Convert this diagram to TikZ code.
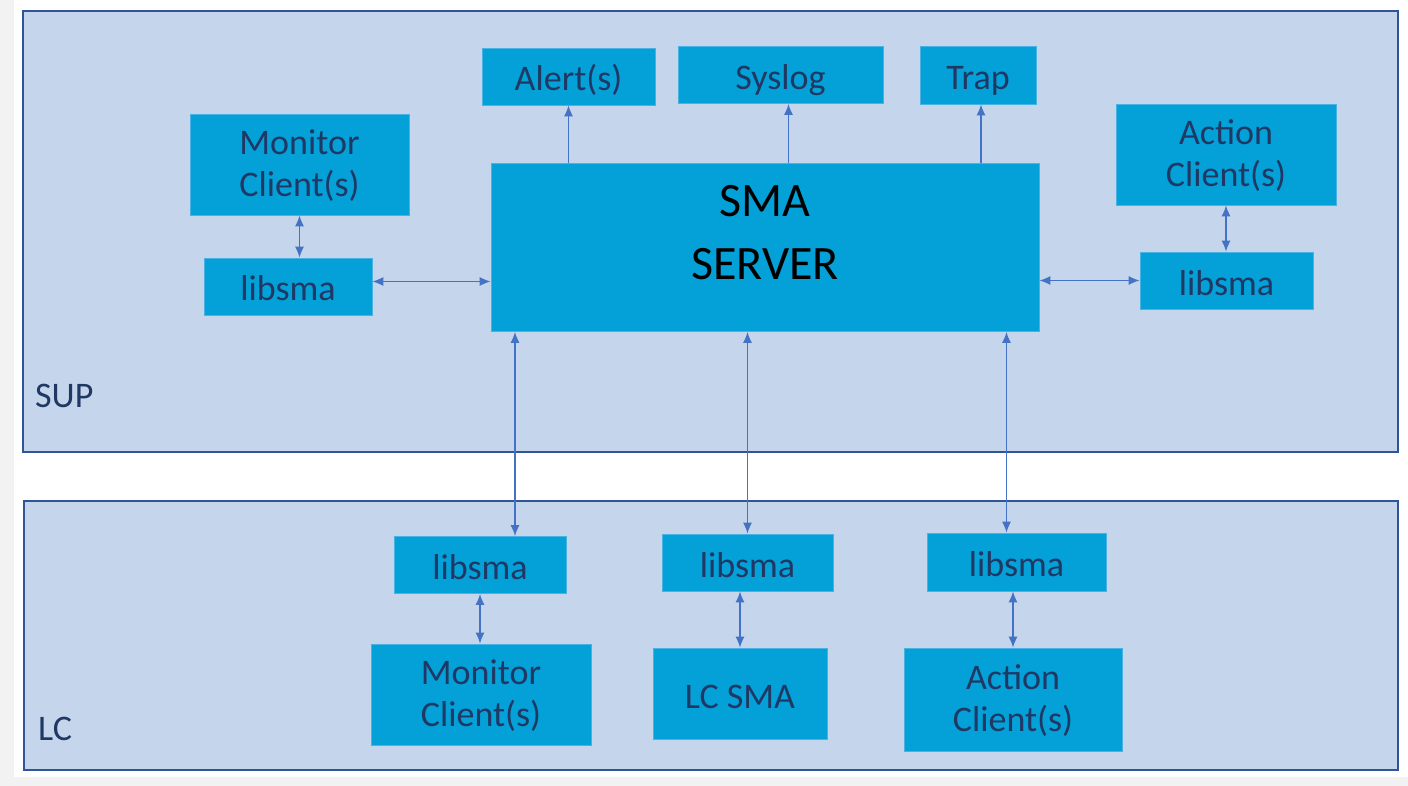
\documentclass[tikz,border=0pt]{standalone}
\usepackage{fontspec}
\setmainfont{Carlito}
\usetikzlibrary{arrows.meta}

\definecolor{pagegray}{RGB}{242,242,242}
\definecolor{panelfill}{RGB}{197,214,236}
\definecolor{panelline}{RGB}{47,85,151}
\definecolor{boxfill}{RGB}{4,160,216}
\definecolor{boxline}{RGB}{72,178,228}
\definecolor{txtblue}{RGB}{31,56,100}
\definecolor{arrowblue}{RGB}{68,114,196}

% fixed line height so every box centres on the same baseline
\newcommand\boxstrut{\rule[-6pt]{0pt}{41pt}}

\tikzset{
  panel/.style={draw=panelline, line width=2.5pt, fill=panelfill},
  panellbl/.style={text=txtblue, inner sep=0pt, font=\fontsize{36}{44}\selectfont},
  blk/.style={draw=boxline, line width=0.8pt, fill=boxfill, text=txtblue,
    align=center, inner sep=0pt, font=\fontsize{36}{42}\selectfont,
    execute at begin node=\boxstrut, execute at end node=\boxstrut},
  % two-line boxes
  blktwo/.style={blk, text height=72pt, text depth=8pt},
  conn/.style={draw=arrowblue, line width=1.3pt, -{Latex[length=11pt,width=9pt]}},
  biconn/.style={conn, {Latex[length=11pt,width=9pt]}-{Latex[length=11pt,width=9pt]}}
}

\begin{document}
\begin{tikzpicture}[x=1pt,y=-1pt]
\useasboundingbox (0,0) rectangle (1408,786);
% page
\fill[pagegray] (0,0) rectangle (1408,786);
\fill[white] (14,0) rectangle (1408,777);
% SUP and LC panels
\draw[panel] (23,11) rectangle (1398,452);
\draw[panel] (24,501) rectangle (1398,770);
\node[panellbl, anchor=base west] (suplbl) at (35,407) {SUP};
\node[panellbl, anchor=base west] (lclbl) at (38,740) {LC};

% SUP boxes
\node[blk, minimum width=548pt, minimum height=168pt] (sma) at (765,247.5) {};
\node[font=\fontsize{48}{63}\selectfont, align=center, inner sep=0pt] (smatxt)
  at ([yshift=15pt]sma.center) {SMA\\SERVER};
\node[blktwo, minimum width=219pt, minimum height=101pt] (monc) at (299.5,164.5) {Monitor\\Client(s)};
\node[blk, minimum width=168pt, minimum height=57pt] (libl) at (288,286.5) {libsma};
\node[blktwo, minimum width=220pt, minimum height=101pt] (actc) at (1226,154.5) {Action\\Client(s)};
\node[blk, minimum width=173pt, minimum height=57pt] (libr) at (1226.5,280.5) {libsma};
\node[blk, minimum width=173pt, minimum height=57pt] (alert) at (568.5,76.5) {Alert(s)};
\node[blk, minimum width=205pt, minimum height=57pt] (syslog) at (780.5,75) {Syslog};
\node[blk, minimum width=116pt, minimum height=58pt] (trap) at (978,75) {Trap};

% LC boxes
\node[blk, minimum width=172pt, minimum height=57pt] (lib1) at (480,565) {libsma};
\node[blk, minimum width=171pt, minimum height=57pt] (lib2) at (747.5,562.5) {libsma};
\node[blk, minimum width=179pt, minimum height=58pt] (lib3) at (1016.5,562) {libsma};
\node[blktwo, minimum width=220pt, minimum height=101pt] (monlc) at (481,694.5) {Monitor\\Client(s)};
\node[blk, minimum width=174pt, minimum height=91pt] (lcsma) at (740,693.5) {LC SMA};
\node[blktwo, minimum width=218pt, minimum height=103pt] (actlc) at (1013,699.5) {Action\\Client(s)};

% links on the SUP side
\draw[biconn] (monc.south) -- (monc.south |- libl.north);
\draw[biconn] ([yshift=5pt]libl.east) -- ([yshift=5pt]libl.east -| sma.west);
\draw[biconn] (sma.east |- libr.west) -- (libr.west);
\draw[biconn] (actc.south) -- (actc.south |- libr.north);
\draw[conn] (alert.south |- sma.north) -- (alert.south);
\draw[conn] ([xshift=8pt]syslog.south |- sma.north) -- ([xshift=8pt]syslog.south);
\draw[conn] ([xshift=3pt]trap.south |- sma.north) -- ([xshift=3pt]trap.south);

% server down to the LC libraries
\draw[biconn] ([xshift=35pt]lib1.north |- sma.south) -- ([xshift=35pt]lib1.north);
\draw[biconn] (lib2.north |- sma.south) -- (lib2.north);
\draw[biconn] ([xshift=-10pt]lib3.north |- sma.south) -- ([xshift=-10pt]lib3.north);

% links on the LC side
\draw[biconn] (lib1.south) -- (lib1.south |- monlc.north);
\draw[biconn] (lcsma.north |- lib2.south) -- (lcsma.north);
\draw[biconn] (actlc.north |- lib3.south) -- (actlc.north);
\end{tikzpicture}
\end{document}
